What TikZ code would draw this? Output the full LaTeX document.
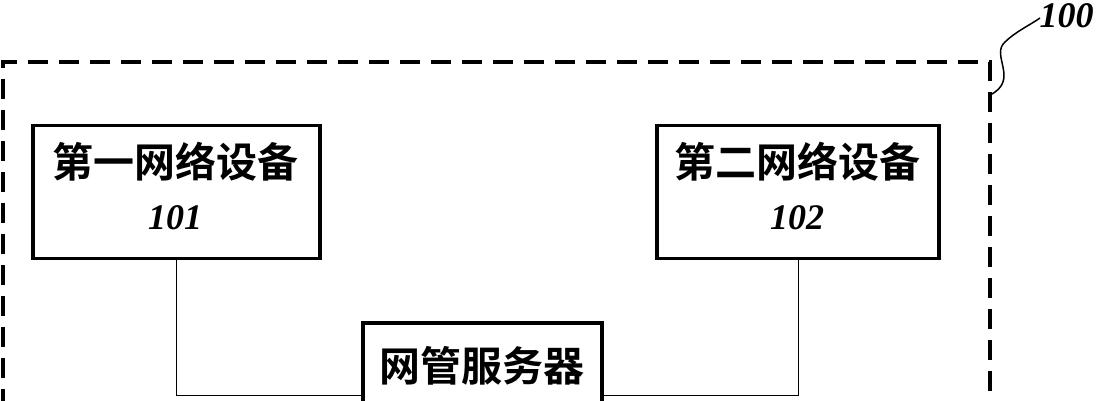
\documentclass[tikz,border=0pt]{standalone}
\usepackage{fontspec}
\setmainfont{Liberation Serif}
\newfontfamily\cjk{Noto Sans CJK SC Bold}
\begin{document}
\begin{tikzpicture}[x=1pt,y=-1pt,
  dev/.style={draw,line width=3.5pt,inner sep=0pt},
  lbl/.style={font=\cjk\fontsize{41}{48}\selectfont},
  num/.style={font=\bfseries\itshape\fontsize{36}{42}\selectfont}]
\useasboundingbox (0,0) rectangle (1105,400);
\clip (0,0) rectangle (1105,400);
\draw[line width=4pt,dash pattern=on 20pt off 11pt] (3,440) -- (3,62) -- (990,62) -- (990,440);
\node[dev,minimum width=287pt,minimum height=133pt] (a) at (176.5,192) {};
\node[lbl] at (175,162) {第一网络设备};
\node[num] at (175,218) {101};
\node[dev,minimum width=282pt,minimum height=133pt] (b) at (798,192) {};
\node[lbl] at (797,162) {第二网络设备};
\node[num] at (797,218) {102};
\node[dev,minimum width=239pt,minimum height=140pt] (s) at (482.5,393) {};
\node[lbl] at (482,366) {网管服务器};
\draw[line width=1pt] (a.south) |- (s.west |- 0,395);
\draw[line width=1pt] (b.south) |- (s.east |- 0,395);
\coordinate (c) at (990,95);
\draw[line width=1.5pt] (c) .. controls (1020,80) and (990,55) .. (1005,42) .. controls (1015,32) and (1030,25) .. (1040,18);
\node[num,anchor=west] (n) at (1036,16) {100};
\end{tikzpicture}
\end{document}
